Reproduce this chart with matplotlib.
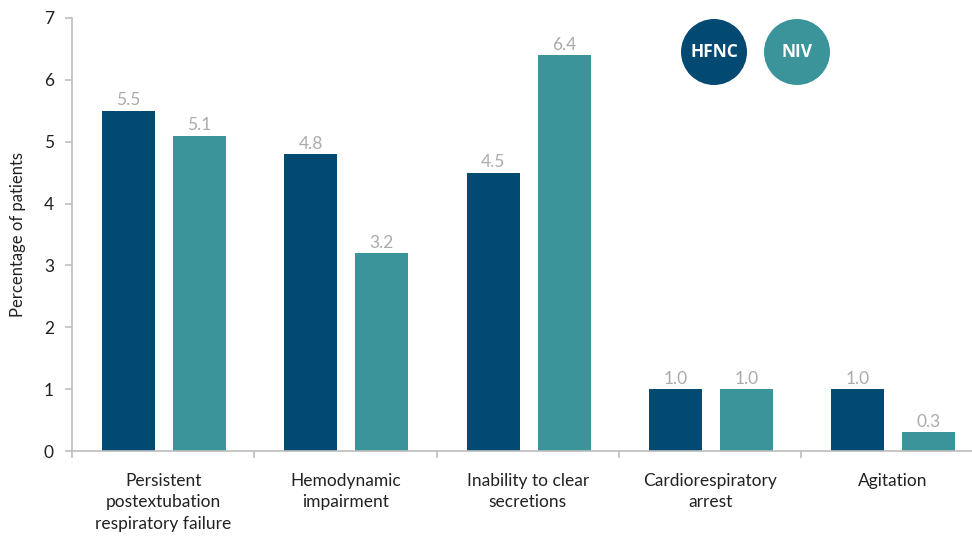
import matplotlib.pyplot as plt
import matplotlib.patches as patches
import numpy as np

plt.rcParams['font.family'] = ['Lato', 'DejaVu Sans']

categorias = ['Persistent\npostextubation\nrespiratory failure', 'Hemodynamic\nimpairment',
              'Inability to clear\nsecretions', 'Cardiorespiratory\narrest', 'Agitation']
hfnc = [5.5, 4.8, 4.5, 1.0, 1.0]
niv = [5.1, 3.2, 6.4, 1.0, 0.3]
yticks = [0, 1, 2, 3, 4, 5, 6, 7]

cor_hfnc = '#034a72'
cor_niv = '#3a9499'
cor_valor = '#ababab'
cor_eixo = '#bdbdbd'

fig = plt.figure(figsize=(9.72, 5.37), dpi=100)
ax = fig.add_axes([72 / 972, 1 - 451 / 537, 900 / 972, 433 / 537])

x = np.arange(len(categorias))
largura = 0.29
b1 = ax.bar(x - 0.19, hfnc, largura, color=cor_hfnc)
b2 = ax.bar(x + 0.2, niv, largura, color=cor_niv)

# valores acima das barras
for barras, vals in ((b1, hfnc), (b2, niv)):
    for b, v in zip(barras, vals):
        ax.text(b.get_x() + b.get_width() / 2, v + 0.04, f'{v:.1f}', ha='center', va='bottom',
                fontsize=12.5, color=cor_valor)

ax.set_yticks(yticks)
ax.set_xticks(x)
ax.set_xticklabels(categorias, fontsize=12.5, color='#222222', linespacing=1.4)
ax.set_xticks(np.arange(len(categorias) + 1) - 0.5, minor=True)
# limites depois dos ticks, senão o set_xticks alarga a vista
ax.set_xlim(-0.5, -0.5 + 900 / 182.3)
ax.set_ylim(0, 7)
ax.tick_params(axis='x', which='major', length=0, pad=16)
ax.tick_params(axis='x', which='minor', length=5, color=cor_eixo, width=1.2)
ax.tick_params(axis='y', length=5, color=cor_eixo, width=1.2, labelsize=12.5, labelcolor='#222222', pad=8)
ax.set_ylabel('Percentage of patients', fontsize=12, color='#222222', labelpad=13)

for lado in ('top', 'right'):
    ax.spines[lado].set_visible(False)
for lado in ('left', 'bottom'):
    ax.spines[lado].set_color(cor_eixo)
    ax.spines[lado].set_linewidth(1.2)

# legenda com círculos
for cx, rotulo, cor in ((7.14, 'HFNC', cor_hfnc), (7.97, 'NIV', cor_niv)):
    fig.add_artist(patches.Circle((cx, 5.37 - 0.52), 0.33, transform=fig.dpi_scale_trans,
                                  facecolor=cor, edgecolor='none'))
    fig.text(cx / 9.72, (5.37 - 0.52) / 5.37, rotulo, ha='center', va='center',
             color='white', fontsize=12.5, fontweight='bold', family=['Open Sans', 'DejaVu Sans'])

fig.savefig('out.png', dpi=100)
